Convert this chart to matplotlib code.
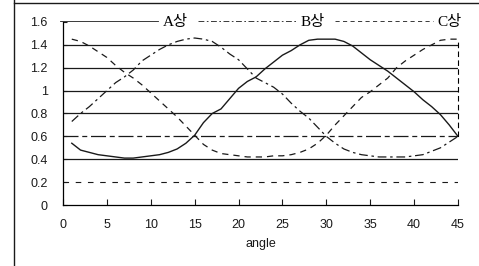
import numpy as np
import matplotlib.pyplot as plt
from matplotlib.lines import Line2D

angle = list(range(1, 46))

# phase A (solid)
phase_a = [0.54, 0.48, 0.46, 0.44, 0.43, 0.42, 0.41, 0.41, 0.42, 0.43,
           0.44, 0.46, 0.49, 0.54, 0.61, 0.72, 0.80, 0.84, 0.93, 1.02,
           1.08, 1.12, 1.19, 1.25, 1.31, 1.35, 1.40, 1.44, 1.45, 1.45,
           1.45, 1.43, 1.39, 1.33, 1.27, 1.22, 1.17, 1.11, 1.05, 0.99,
           0.92, 0.86, 0.79, 0.70, 0.60]

# phase B (dash-dot)
phase_b = [0.73, 0.80, 0.86, 0.93, 1.00, 1.07, 1.12, 1.18, 1.26, 1.31,
           1.36, 1.40, 1.43, 1.45, 1.46, 1.45, 1.43, 1.38, 1.32, 1.27,
           1.19, 1.11, 1.07, 1.03, 0.97, 0.89, 0.82, 0.76, 0.68, 0.60,
           0.54, 0.49, 0.46, 0.44, 0.43, 0.42, 0.42, 0.42, 0.42, 0.43,
           0.44, 0.47, 0.50, 0.55, 0.60]

# phase C (dashed)
phase_c = [1.45, 1.43, 1.39, 1.34, 1.29, 1.22, 1.16, 1.11, 1.05, 0.98,
           0.91, 0.84, 0.77, 0.69, 0.61, 0.53, 0.48, 0.45, 0.44, 0.43,
           0.42, 0.42, 0.42, 0.43, 0.43, 0.44, 0.46, 0.49, 0.54, 0.61,
           0.70, 0.78, 0.86, 0.94, 0.99, 1.05, 1.11, 1.20, 1.26, 1.31,
           1.36, 1.40, 1.44, 1.45, 1.45]

labels = ['A상', 'B상', 'C상']
xticks = [0, 5, 10, 15, 20, 25, 30, 35, 40, 45]
yticks = [0, 0.2, 0.4, 0.6, 0.8, 1.0, 1.2, 1.4, 1.6]
ytick_labels = ['0', '0.2', '0.4', '0.6', '0.8', '1', '1.2', '1.4', '1.6']

plt.rcParams['font.family'] = ['Liberation Sans', 'DejaVu Sans']

fig = plt.figure(figsize=(4.79, 2.66), dpi=100)
ax = fig.add_axes([63/479, 1 - 205/266, 395/479, 183/266])

ink = '#1a1a1a'
l1, = ax.plot(angle, phase_a, color=ink, lw=1.0, ls='-')
l2, = ax.plot(angle, phase_b, color=ink, lw=0.9, dashes=(7, 3, 2, 3))
l3, = ax.plot(angle, phase_c, color=ink, lw=0.9, dashes=(5, 4))

ax.set_xlim(0, 45)
ax.set_ylim(0, 1.6)
ax.set_xticks(xticks)
ax.set_yticks(yticks)
ax.set_yticklabels(ytick_labels)

# horizontal grid lines, styles as they appear in the chart
for y in yticks[1:-1]:
    if abs(y - 0.6) < 1e-6:
        ax.axhline(y, color=ink, lw=0.9, dashes=(12, 3, 4, 3), zorder=0)
    elif abs(y - 0.2) < 1e-6:
        ax.axhline(y, color=ink, lw=0.8, dashes=(5, 6), zorder=0)
    else:
        ax.axhline(y, color=ink, lw=0.9, zorder=0)

ax.spines['top'].set_visible(False)
ax.spines['right'].set_linestyle((0, (4, 4)))
ax.spines['right'].set_linewidth(0.8)
ax.spines['right'].set_bounds(0.6, 1.45)
ax.spines['left'].set_linewidth(0.9)
ax.spines['bottom'].set_linewidth(0.9)

ax.tick_params(axis='x', direction='in', length=4, width=0.8, pad=10,
               labelsize=9, colors=ink)
ax.tick_params(axis='y', direction='in', length=3, width=0.8, pad=11,
               labelsize=9, colors=ink)
ax.set_xlabel('angle', fontsize=9, labelpad=5, color=ink)

leg = ax.legend([l1, l2, l3], labels, ncol=3, frameon=False,
                loc='center right', bbox_to_anchor=(1.01, 1.0),
                handlelength=6.4, handletextpad=0.3, columnspacing=0.7,
                borderaxespad=0, borderpad=0,
                prop={'family': ['Liberation Serif', 'Noto Sans CJK KR'],
                      'size': 11})
for h in leg.get_lines():
    h.set_linewidth(0.6)

# outer frame of the chart area (left and top edges)
fig.add_artist(Line2D([14/479, 14/479], [0, 1], color=ink, lw=1.0,
                      transform=fig.transFigure))
fig.add_artist(Line2D([14/479, 1], [1 - 3/266, 1 - 3/266], color=ink, lw=1.0,
                      transform=fig.transFigure))

fig.savefig('out.png', dpi=100)
